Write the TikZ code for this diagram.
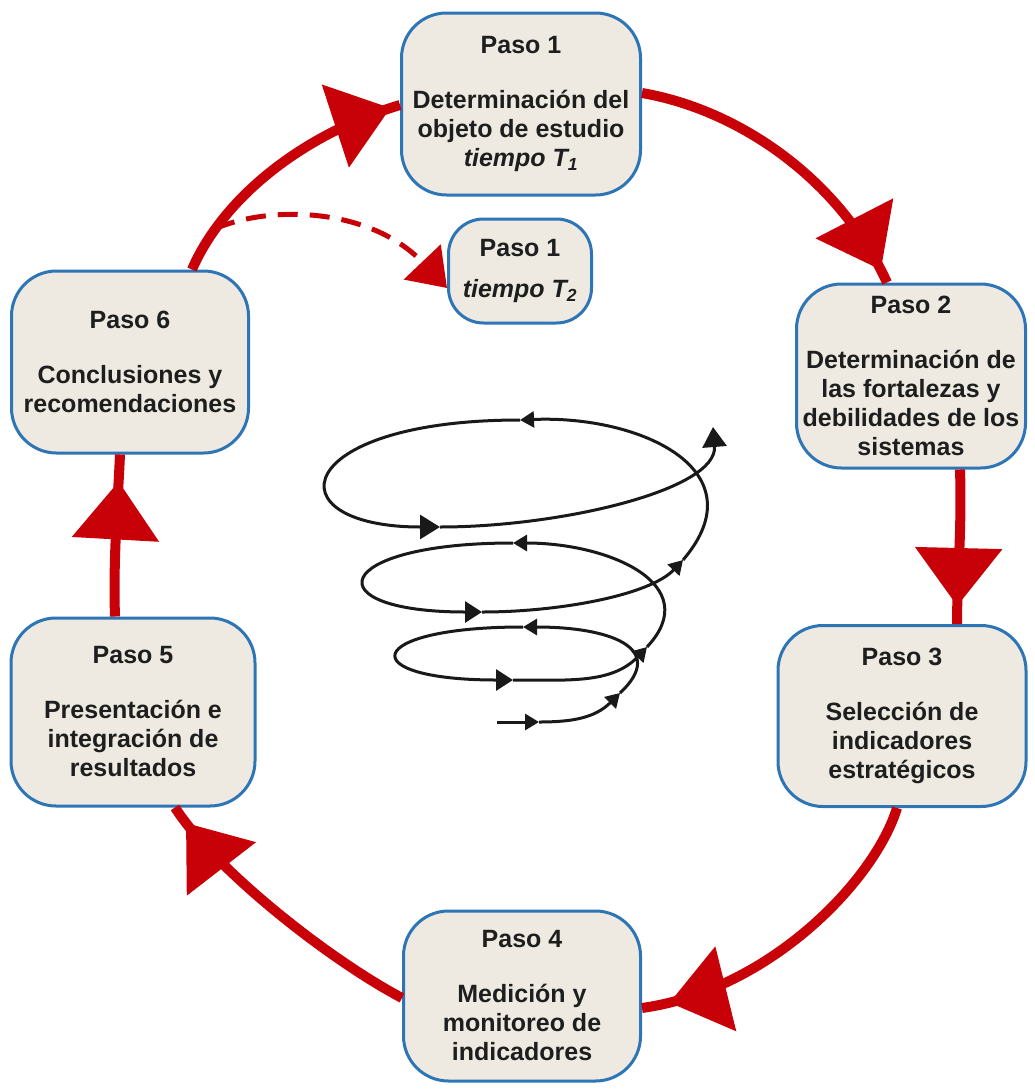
\documentclass[tikz,border=0pt]{standalone}
\usepackage{fontspec}
\setmainfont{Liberation Sans}
\usetikzlibrary{arrows.meta,decorations.markings,calc}
\definecolor{boxfill}{RGB}{238,234,225}
\definecolor{boxblue}{RGB}{46,117,182}
\definecolor{arrowred}{RGB}{200,0,8}
\definecolor{txt}{RGB}{30,30,30}
\definecolor{spiralcol}{RGB}{25,25,25}
\begin{document}
\begin{tikzpicture}[x=1pt,y=-1pt,
  stepnode/.style={draw=boxblue, line width=3pt, fill=boxfill, rounded corners=45pt,
    align=center, text=txt, inner sep=0pt,
    font=\fontsize{25}{29}\selectfont\bfseries},
  redflow/.style={draw=arrowred, line width=10pt, postaction={decorate},
    decoration={markings, mark=at position #1 with {\arrow{Triangle[length=58pt,width=85pt]}}}},
  dashflow/.style={draw=arrowred, line width=5pt, dash pattern=on 20pt off 12pt,
    -{Triangle[length=36pt,width=50pt]}},
  spiralline/.style={draw=spiralcol, line width=3pt},
  tipS/.style={-{Triangle[length=14pt,width=16pt]}},
  tipM/.style={-{Triangle[length=17pt,width=21pt]}},
  tipL/.style={-{Triangle[length=20pt,width=24pt]}}
]
\fill[white] (0,0) rectangle (1034,1090);
\useasboundingbox (0,0) rectangle (1034,1090);

% boxes
\node[stepnode, minimum width=239pt, minimum height=182pt] (p1) at (521,104)
  {Paso 1\\[26pt]Determinación del\\objeto de estudio\\\textit{tiempo T\textsubscript{1}}};
\node[stepnode, rounded corners=35pt, minimum width=143pt, minimum height=104pt] (t2) at (520,271)
  {Paso 1\\[12pt]\textit{tiempo T\textsubscript{2}}};
\node[stepnode, minimum width=229pt, minimum height=184pt] (p2) at (911,376)
  {Paso 2\\[26pt]Determinación de\\las fortalezas y\\debilidades de los\\sistemas};
\node[stepnode, minimum width=248pt, minimum height=181pt] (p3) at (902,716)
  {Paso 3\\[26pt]Selección de\\indicadores\\estratégicos};
\node[stepnode, minimum width=237pt, minimum height=170pt] (p4) at (522,996)
  {Paso 4\\[26pt]Medición y\\monitoreo de\\indicadores};
\node[stepnode, minimum width=244pt, minimum height=188pt] (p5) at (133,712)
  {Paso 5\\[26pt]Presentación e\\integración de\\resultados};
\node[stepnode, minimum width=237pt, minimum height=182pt] (p6) at (130,362)
  {Paso 6\\[26pt]Conclusiones y\\recomendaciones};

% red cycle arrows
\draw[redflow=-14pt] ($(p1.east)+(0,-11)$) .. controls (740,110) and (840,180) .. ($(p2.north)+(-24,0)$);
\draw[redflow=-18pt] ($(p2.south)+(49,0)$) .. controls (962,530) and (957,580) .. ($(p3.north)+(55,0)$);
\draw[redflow=-28pt] ($(p3.south)+(-5,0)$) .. controls (875,880) and (770,990) .. ($(p4.east)+(0,12)$);
\draw[redflow=-19pt] ($(p4.west)+(0,2)$) .. controls (330,960) and (215,870) .. ($(p5.south)+(42,0)$);
\draw[redflow=-27pt] ($(p5.north)+(-18,0)$) .. controls (113,560) and (118,500) .. ($(p6.south)+(-10,0)$);
\draw[redflow=-10pt] ($(p6.north)+(62,0)$) .. controls (222,200) and (300,135) .. ($(p1.west)+(0,1)$)
  coordinate[pos=0.2] (brk);

% dashed branch to second iteration
\draw[dashflow] (brk) .. controls (270,205) and (370,207) .. ($(t2.west)+(0,17)$);

% spiral
\coordinate (s0) at (497,722);
\coordinate (s1) at (539,722);
\coordinate (s2) at (620,693);
\coordinate (s3) at (523,627);
\coordinate (s4) at (513,680);
\coordinate (s5) at (647,647);
\coordinate (s6) at (513,543);
\coordinate (s7) at (482,612);
\coordinate (s8) at (683,560);
\coordinate (s9) at (520,420);
\coordinate (s10) at (440,527);
\coordinate (s11) at (713,427);
\draw[spiralline, tipS] (s0) .. controls (510,722) and (525,722) .. (s1);
\draw[spiralline, tipS] (s1) .. controls (572,722) and (595,718) .. (s2);
\draw[spiralline, tipS] (s2) .. controls (668,648) and (610,627) .. (s3);
\draw[spiralline, tipM] (s3) .. controls (362,627) and (352,680) .. (s4);
\draw[spiralline, tipS] (s4) .. controls (568,680) and (612,684) .. (s5);
\draw[spiralline, tipS] (s5) .. controls (705,585) and (610,543) .. (s6);
\draw[spiralline, tipM] (s6) .. controls (330,543) and (312,612) .. (s7);
\draw[spiralline, tipS] (s7) .. controls (560,612) and (650,595) .. (s8);
\draw[spiralline, tipS] (s8) .. controls (760,470) and (640,415) .. (s9);
\draw[spiralline, tipL] (s9) .. controls (290,420) and (270,527) .. (s10);
\draw[spiralline, tipL] (s10) .. controls (560,527) and (718,490) .. (s11);
\end{tikzpicture}
\end{document}
